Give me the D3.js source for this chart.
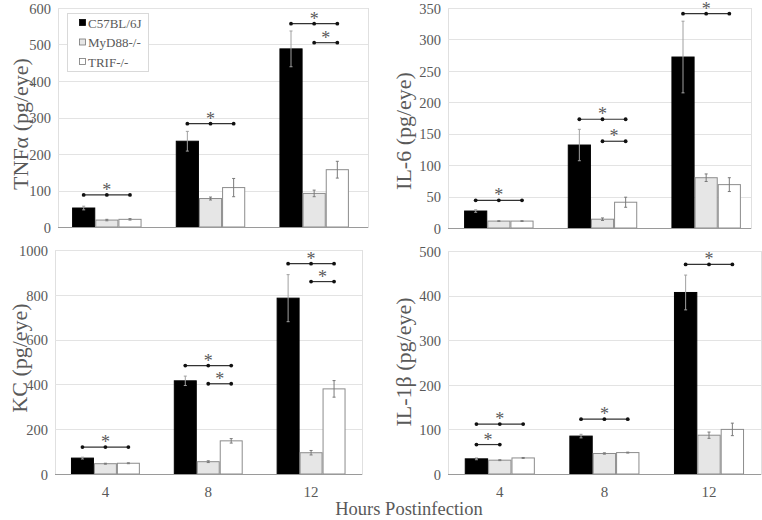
<!DOCTYPE html>
<html>
<head>
<meta charset="utf-8">
<script src="https://cdn.jsdelivr.net/npm/d3@7"></script>
<style>
  html, body { margin: 0; padding: 0; background: #fff; }
  svg { display: block; }
</style>
</head>
<body>
<svg id="chart" width="762" height="520" font-family="'Liberation Serif', 'DejaVu Serif', serif"></svg>
<script>
// ---------- data ----------
const hours = ["4", "8", "12"];
const strains = ["C57BL/6J", "MyD88-/-", "TRIF-/-"];

// values per hour (rows) for each strain (columns)
const tnfMean = [[52, 19, 21], [235, 78, 108], [488, 92, 157]];
const tnfErr  = [[5, 2, 2], [27, 4, 25], [49, 9, 23]];
const tnfSig  = [[0, 0, 2, 88], [1, 0, 2, 283], [2, 0, 2, 557], [2, 1, 2, 505]];
const tnfTicks = [0, 100, 200, 300, 400, 500, 600];

const il6Mean = [[27, 11, 11], [132, 14, 41], [272, 80, 69]];
const il6Err  = [[2, 0.5, 0.5], [25, 2, 8], [57, 6, 11]];
const il6Sig  = [[0, 0, 2, 44], [1, 0, 2, 173], [1, 1, 2, 138], [2, 0, 2, 341]];
const il6Ticks = [0, 50, 100, 150, 200, 250, 300, 350];

const kcMean = [[71, 46, 48], [416, 55, 148], [785, 95, 380]];
const kcErr  = [[4, 2, 2], [21, 4, 10], [105, 10, 37]];
const kcSig  = [[0, 0, 2, 120], [1, 0, 2, 484], [1, 1, 2, 403], [2, 0, 2, 939], [2, 1, 2, 859]];
const kcTicks = [0, 200, 400, 600, 800, 1000];

const il1bMean = [[34, 31, 36], [85, 46, 48], [407, 87, 100]];
const il1bErr  = [[2, 1, 1], [4, 1.5, 1], [39, 7, 14]];
const il1bSig  = [[0, 0, 2, 112], [0, 0, 1, 66], [1, 0, 2, 123], [2, 0, 2, 470]];
const il1bTicks = [0, 100, 200, 300, 400, 500];

const xTitle = "Hours Postinfection";

// ---------- layout ----------
const FONT = "'Liberation Serif', 'DejaVu Serif', serif";
const TXT = "#595959";
const panels = [
  { title: "TNFα (pg/eye)", mean: tnfMean, err: tnfErr, sig: tnfSig, ticks: tnfTicks,
    frame: [58, 8, 368, 227], band: [55, 366], titleX: 20, titleY: 124, xLabels: false, legend: true },
  { title: "IL-6 (pg/eye)", mean: il6Mean, err: il6Err, sig: il6Sig, ticks: il6Ticks,
    frame: [448, 8, 751, 228], band: [447, 758], titleX: 403, titleY: 131, xLabels: false, legend: false },
  { title: "KC (pg/eye)", mean: kcMean, err: kcErr, sig: kcSig, ticks: kcTicks,
    frame: [55, 250, 362, 474], band: [54, 362.5], titleX: 19, titleY: 358, xLabels: true, legend: false },
  { title: "IL-1β (pg/eye)", mean: il1bMean, err: il1bErr, sig: il1bSig, ticks: il1bTicks,
    frame: [448, 251, 761, 474], band: [447.5, 761.3], titleX: 403, titleY: 362, xLabels: true, legend: false }
];

const fills = ["#000000", "#e6e6e6", "#ffffff"];
const strokes = ["#000000", "#8c8c8c", "#8c8c8c"];

const svg = d3.select("#chart");

panels.forEach(p => {
  const [fx0, fy0, fx1, fy1] = p.frame;
  const y = d3.scaleLinear().domain([0, d3.max(p.ticks)]).range([fy1, fy0]);
  const x = d3.scaleBand().domain(hours).range(p.band).paddingInner(0.33).paddingOuter(0.165);
  const xs = d3.scaleBand().domain(d3.range(strains.length)).range([0, x.bandwidth()]);
  const g = svg.append("g");

  // frame
  g.append("rect").attr("x", fx0 + 0.5).attr("y", fy0 + 0.5).attr("width", fx1 - fx0).attr("height", fy1 - fy0)
    .attr("fill", "none").attr("stroke", "#e0e0e0").attr("stroke-width", 1);

  // gridlines
  g.selectAll("line.grid").data(p.ticks.slice(1)).join("line")
    .attr("x1", fx0).attr("x2", fx1)
    .attr("y1", d => Math.round(y(d)) + 0.5).attr("y2", d => Math.round(y(d)) + 0.5)
    .attr("stroke", "#e3e3e3").attr("stroke-width", 1);

  // y axis labels
  const yAxis = d3.axisLeft(y).tickValues(p.ticks).tickFormat(d3.format("d")).tickSize(0).tickPadding(7);
  const ya = g.append("g").attr("transform", `translate(${fx0},0)`).call(yAxis)
    .attr("font-family", FONT).attr("font-size", 14.5);
  ya.select(".domain").remove();
  ya.selectAll("text").attr("fill", TXT).attr("dy", "0.36em");

  // bars
  p.mean.forEach((row, hi) => {
    row.forEach((v, si) => {
      const bx = x(hours[hi]) + xs(si);
      const bw = xs.bandwidth();
      g.append("rect")
        .attr("x", bx + 0.5).attr("y", y(v))
        .attr("width", bw - 1).attr("height", y(0) - y(v))
        .attr("fill", fills[si]).attr("stroke", strokes[si]).attr("stroke-width", 1);
      // error bar
      const e = p.err[hi][si];
      const cx = bx + bw / 2;
      const col = si === 0 ? "#a0a0a0" : "#7a7a7a";
      g.append("line").attr("x1", cx).attr("x2", cx)
        .attr("y1", y(v - e)).attr("y2", y(v + e))
        .attr("stroke", col).attr("stroke-width", 1);
      [v + e, v - e].forEach(t => {
        g.append("line").attr("x1", cx - 1.5).attr("x2", cx + 1.5)
          .attr("y1", y(t)).attr("y2", y(t))
          .attr("stroke", col).attr("stroke-width", 1);
      });
    });
  });

  // x axis line
  g.append("line").attr("x1", fx0).attr("x2", fx1)
    .attr("y1", fy1 + 0.5).attr("y2", fy1 + 0.5)
    .attr("stroke", "#9a9a9a").attr("stroke-width", 1);

  // x labels
  if (p.xLabels) {
    const xAxis = d3.axisBottom(x).tickSize(0).tickPadding(12);
    const xa = g.append("g").attr("transform", `translate(0,${fy1})`).call(xAxis)
      .attr("font-family", FONT).attr("font-size", 15);
    xa.select(".domain").remove();
    xa.selectAll("text").attr("fill", TXT);
  }

  // significance markers
  p.sig.forEach(([hi, a, b, val]) => {
    const cxA = x(hours[hi]) + xs(a) + xs.bandwidth() / 2;
    const cxB = x(hours[hi]) + xs(b) + xs.bandwidth() / 2;
    const yy = y(val);
    g.append("line").attr("x1", cxA).attr("x2", cxB).attr("y1", yy).attr("y2", yy)
      .attr("stroke", "#333").attr("stroke-width", 1.2);
    const dots = [];
    for (let s = a; s <= b; s++) dots.push(x(hours[hi]) + xs(s) + xs.bandwidth() / 2);
    g.selectAll(null).data(dots).join("circle")
      .attr("cx", d => d).attr("cy", yy).attr("r", 1.9).attr("fill", "#111");
    g.append("text").attr("x", (cxA + cxB) / 2).attr("y", yy + 1)
      .attr("text-anchor", "middle").attr("font-size", 18).attr("fill", "#5a5a5a")
      .text("*");
  });

  // y title
  g.append("text")
    .attr("transform", `translate(${p.titleX},${p.titleY}) rotate(-90)`)
    .attr("text-anchor", "middle").attr("dominant-baseline", "central")
    .attr("font-size", 22).attr("fill", TXT)
    .text(p.title);

  // legend
  if (p.legend) {
    const lg = g.append("g");
    lg.append("rect").attr("x", 67.5).attr("y", 13.5).attr("width", 81).attr("height", 58)
      .attr("fill", "#fff").attr("stroke", "#d9d9d9");
    strains.forEach((s, i) => {
      const ly = 23 + i * 19.5;
      lg.append("rect").attr("x", 79.5).attr("y", ly - 3.5).attr("width", 6).attr("height", 6)
        .attr("fill", fills[i]).attr("stroke", i === 0 ? "#000" : "#777").attr("stroke-width", 0.8);
      lg.append("text").attr("x", 88).attr("y", ly).attr("dominant-baseline", "central")
        .attr("font-size", 13).attr("fill", TXT).text(s);
    });
  }
});

// x title
svg.append("text").attr("x", 409).attr("y", 515).attr("text-anchor", "middle")
  .attr("font-size", 18.5).attr("fill", TXT).text(xTitle);
</script>
</body>
</html>
